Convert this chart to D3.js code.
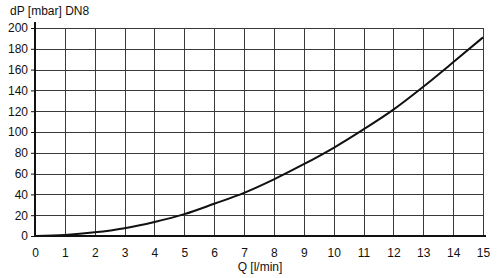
<!DOCTYPE html>
<html>
<head>
<meta charset="utf-8">
<script src="https://cdn.jsdelivr.net/npm/d3@7"></script>
<style>
    body { margin: 0; background: #fff; }
    svg { display: block; font-family: "Liberation Sans", Arial, sans-serif; }
</style>
</head>
<body>
<div class="graph"></div>
<script>
/*
    Chart data
*/
const flow_values = [0, 1, 2, 3, 4, 5, 6, 7, 8, 9, 10, 11, 12, 13, 14, 15];
const pressure_values = [0, 1, 3.5, 7.5, 13.5, 21, 31, 41.5, 54.5, 69, 84.8, 102.5, 121.5, 143.5, 167, 191];
const x_ticks = d3.range(0, 16, 1);
const y_ticks = d3.range(0, 201, 20);
const y_title = "dP [mbar] DN8";
const x_title = "Q [l/min]";

/*
    Configuration variables
*/
const svg_dimensions = { width: 500, height: 278 };
const plot = { left: 35, right: 483, top: 28, bottom: 236 };
const font_size = 12;

let xScale = d3.scaleLinear()
                .domain([0, 15])
                .range([plot.left, plot.right]);

let yScale = d3.scaleLinear()
                .domain([0, 200])
                .range([plot.bottom, plot.top]);

let container = d3.select('.graph').append('svg')
                    .attr('width', svg_dimensions.width)
                    .attr('height', svg_dimensions.height);

/* Grid */
let grid = container.append('g')
                .attr('stroke', '#3a3a3a')
                .attr('stroke-width', 1);

grid.selectAll('.vgrid')
    .data(x_ticks.slice(1))
    .enter().append('line')
    .attr('x1', d => Math.round(xScale(d)) + 0.5)
    .attr('x2', d => Math.round(xScale(d)) + 0.5)
    .attr('y1', plot.top)
    .attr('y2', plot.bottom);

grid.selectAll('.hgrid')
    .data(y_ticks.slice(1))
    .enter().append('line')
    .attr('x1', plot.left)
    .attr('x2', plot.right)
    .attr('y1', d => Math.round(yScale(d)) + 0.5)
    .attr('y2', d => Math.round(yScale(d)) + 0.5);

/* Curve */
let line = d3.line()
                .x((d, i) => xScale(flow_values[i]))
                .y(d => yScale(d))
                .curve(d3.curveMonotoneX);

container.append('path')
            .datum(pressure_values)
            .attr('fill', 'none')
            .attr('stroke', '#111')
            .attr('stroke-width', 2)
            .attr('d', line);

/* Axes */
let yAxis = d3.axisLeft(yScale)
                .tickValues(y_ticks)
                .tickSize(4)
                .tickPadding(3);

let xAxis = d3.axisBottom(xScale)
                .tickValues(x_ticks)
                .tickSize(0)
                .tickPadding(12);

let gy = container.append('g')
            .attr('transform', `translate(${plot.left},0)`)
            .call(yAxis);

let gx = container.append('g')
            .attr('transform', `translate(0,${plot.bottom})`)
            .call(xAxis);

[gx, gy].forEach(g => {
    g.select('.domain').remove();
    g.selectAll('text')
        .attr('font-size', font_size)
        .attr('font-family', '"Liberation Sans", Arial, sans-serif')
        .attr('fill', '#111');
    g.selectAll('.tick line').attr('stroke', '#111');
});

// thick axis lines
container.append('line')
            .attr('x1', plot.left)
            .attr('x2', plot.left)
            .attr('y1', plot.top - 6)
            .attr('y2', plot.bottom + 1)
            .attr('stroke', '#111')
            .attr('stroke-width', 2);

container.append('line')
            .attr('x1', plot.left - 1)
            .attr('x2', plot.right + 3)
            .attr('y1', plot.bottom)
            .attr('y2', plot.bottom)
            .attr('stroke', '#111')
            .attr('stroke-width', 2);

/* Titles */
container.append('text')
            .attr('x', 10)
            .attr('y', 15)
            .attr('font-size', font_size)
            .attr('fill', '#111')
            .text(y_title);

container.append('text')
            .attr('x', (plot.left + plot.right) / 2 + 1)
            .attr('y', 271)
            .attr('text-anchor', 'middle')
            .attr('font-size', font_size)
            .attr('fill', '#111')
            .text(x_title);
</script>
</body>
</html>
